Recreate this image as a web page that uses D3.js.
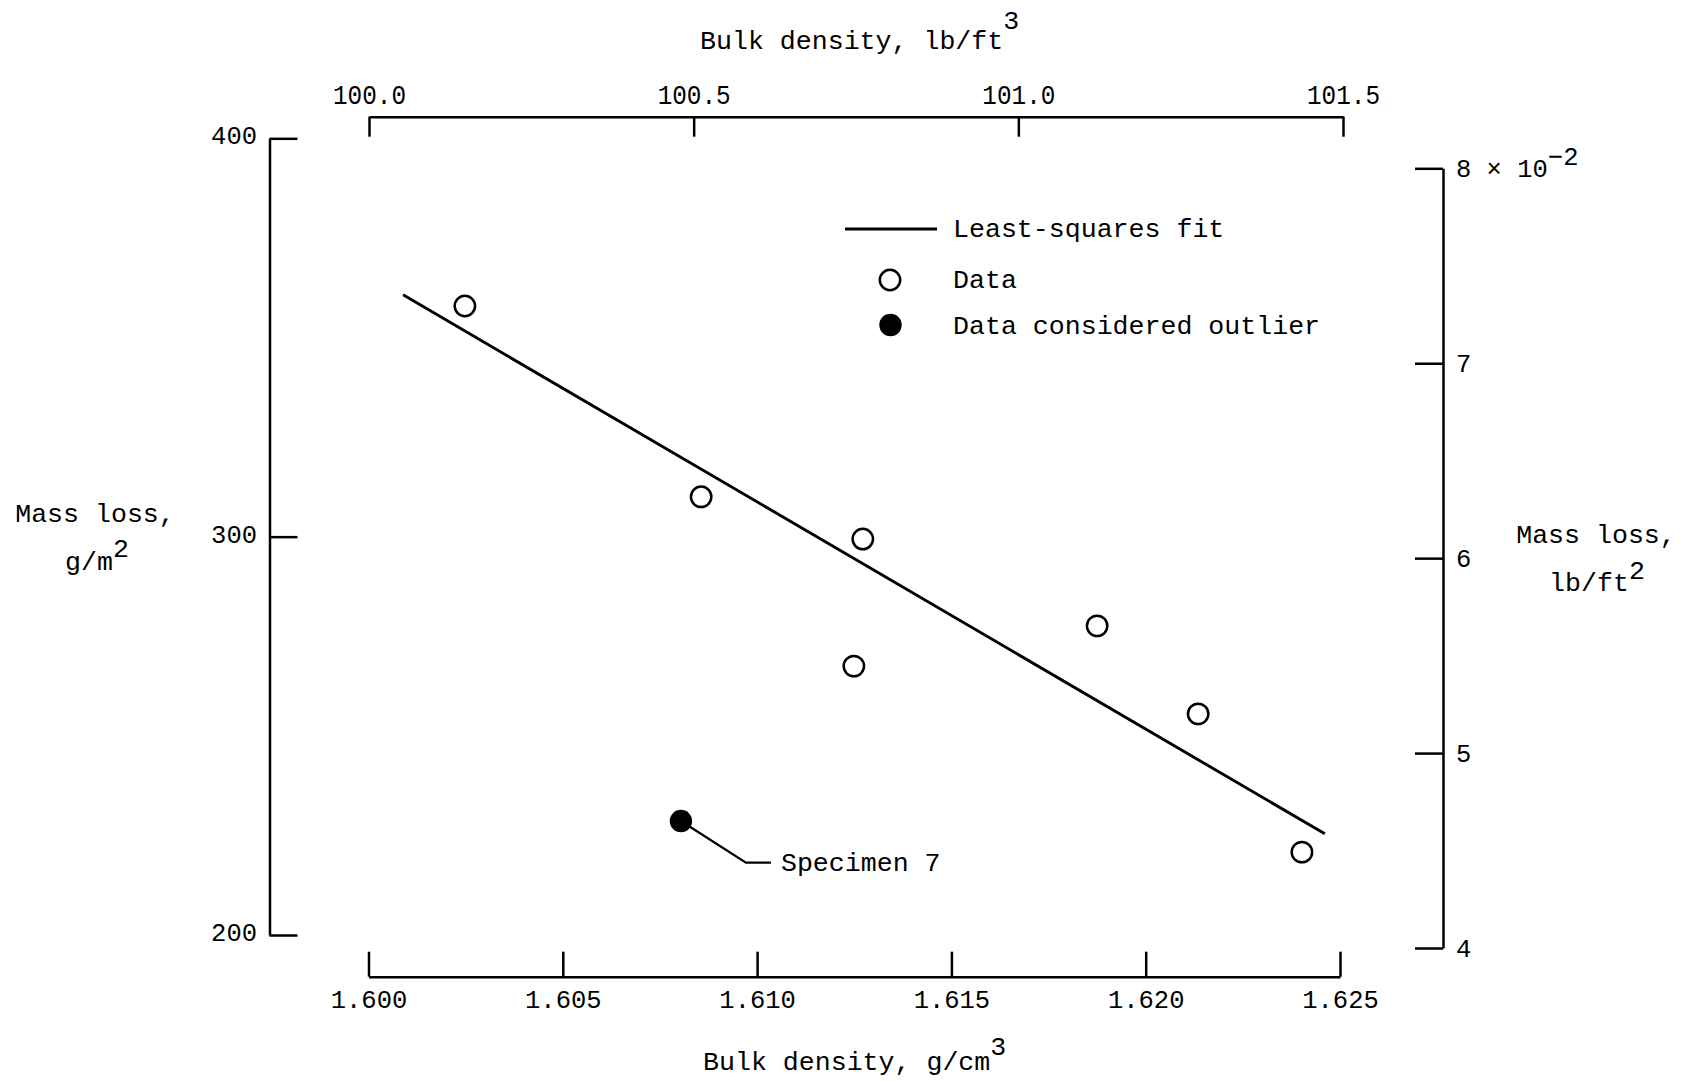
<!DOCTYPE html>
<html>
<head>
<meta charset="utf-8">
<script src="https://cdn.jsdelivr.net/npm/d3@7/dist/d3.min.js"></script>
<style>
  html, body { margin: 0; padding: 0; background: #fff; }
  svg { display: block; }
  text { font-family: "Liberation Mono", "DejaVu Sans Mono", monospace; fill: #000; }
</style>
</head>
<body>
<svg id="chart" width="1697" height="1083"></svg>
<script>
// Bulk density (g/cm^3) and mass loss (g/m^2) for each specimen
const bulkDensityGcm = [1.60248, 1.60856, 1.61272, 1.61249, 1.61875, 1.62135, 1.62402];
const massLossGm2    = [357.9, 310.0, 299.4, 267.5, 277.6, 255.5, 220.8];

// Specimen 7, excluded from the fit
const outlierDensity  = [1.60804];
const outlierMassLoss = [228.6];

// Least-squares line end points
const fitDensity  = [1.60089, 1.62461];
const fitMassLoss = [360.7, 225.4];

// Axis ticks
const densityTicksGcm  = [1.600, 1.605, 1.610, 1.615, 1.620, 1.625];
const densityTicksLbft = [100.0, 100.5, 101.0, 101.5];
const massTicksGm2     = [200, 300, 400];
const massTicksLbft2   = [4, 5, 6, 7, 8];

const svg = d3.select("#chart");
const AXIS_W = 2.5;

const x      = d3.scaleLinear().domain([1.600, 1.625]).range([368.5, 1340]);
const xTop   = d3.scaleLinear().domain([100.0, 101.5]).range([369, 1343]);
const y      = d3.scaleLinear().domain([200, 400]).range([935, 138.3]);
const yRight = d3.scaleLinear().domain([4, 8]).range([948, 168.3]);

function styleAxis(g, fontSize) {
  g.attr("font-family", null).attr("font-size", null);
  g.select(".domain").attr("stroke", "#000").attr("stroke-width", AXIS_W).attr("fill", "none");
  g.selectAll(".tick line").attr("stroke", "#000").attr("stroke-width", AXIS_W);
  g.selectAll(".tick text").style("font-size", fontSize + "px").attr("fill", "#000");
}

// Bottom axis: g/cm^3
const gBottom = svg.append("g").attr("transform", "translate(0,976.7)")
  .call(d3.axisBottom(x).tickValues(densityTicksGcm).tickFormat(d3.format(".3f"))
    .tickSizeInner(-25).tickSizeOuter(0).tickPadding(13));
styleAxis(gBottom, 25.5);

// Top axis: lb/ft^3 (narrow lettering)
const gTop = svg.append("g").attr("transform", "translate(0,116.7)")
  .call(d3.axisTop(xTop).tickValues(densityTicksLbft).tickFormat(d3.format(".1f"))
    .tickSizeInner(-20).tickSizeOuter(0).tickPadding(13));
styleAxis(gTop, 27);
gTop.selectAll(".tick text").attr("textLength", 73).attr("lengthAdjust", "spacingAndGlyphs");

// Left axis: g/m^2
const gLeft = svg.append("g").attr("transform", "translate(269.5,0)")
  .call(d3.axisLeft(y).tickValues(massTicksGm2).tickFormat(d3.format("d"))
    .tickSizeInner(-28).tickSizeOuter(0).tickPadding(12.5));
styleAxis(gLeft, 25.5);
gLeft.selectAll(".tick text").attr("dy", "0.22em");

// Right axis: lb/ft^2 (x 10^-2)
const gRight = svg.append("g").attr("transform", "translate(1443,0)")
  .call(d3.axisRight(yRight).tickValues(massTicksLbft2).tickFormat(d3.format("d"))
    .tickSizeInner(-28).tickSizeOuter(0).tickPadding(13));
styleAxis(gRight, 25.5);
gRight.selectAll(".tick text").attr("dy", "0.32em");
gRight.selectAll(".tick").filter(d => d === 8).select("text")
  .each(function () {
    const t = d3.select(this);
    t.append("tspan").text(" \u00d7 10");
    t.append("tspan").attr("dy", "-0.45em").text("\u22122");
  });

// Axis titles
const titleSize = 26.6;
function superTitle(xPos, yPos, main, sup, supShift, anchor) {
  const t = svg.append("text").attr("x", xPos).attr("y", yPos)
    .attr("text-anchor", anchor).style("font-size", titleSize + "px");
  t.append("tspan").text(main);
  if (sup) t.append("tspan").attr("dy", supShift).text(sup);
  return t;
}
superTitle(700, 48.5, "Bulk density, lb/ft", "3", "-0.72em", "start");
superTitle(703, 1070, "Bulk density, g/cm", "3", "-0.58em", "start");
superTitle(95, 522, "Mass loss,", null, null, "middle");
superTitle(97, 570, "g/m", "2", "-0.5em", "middle");
superTitle(1596, 543, "Mass loss,", null, null, "middle");
superTitle(1597, 591, "lb/ft", "2", "-0.45em", "middle");

// Least-squares fit
const fitPts = fitDensity.map((d, i) => [x(d), y(fitMassLoss[i])]);
svg.append("path").attr("d", d3.line()(fitPts))
  .attr("stroke", "#000").attr("stroke-width", 2.9).attr("fill", "none");

// Data points
svg.append("g").selectAll("circle")
  .data(bulkDensityGcm.map((d, i) => ({ d, m: massLossGm2[i] })))
  .join("circle")
  .attr("cx", p => x(p.d)).attr("cy", p => y(p.m)).attr("r", 10.2)
  .attr("fill", "#fff").attr("stroke", "#000").attr("stroke-width", 2.5);

// Outlier and its callout
const outliers = outlierDensity.map((d, i) => ({ d, m: outlierMassLoss[i] }));
svg.append("g").selectAll("path")
  .data(outliers).join("path")
  .attr("d", p => {
    const cx = x(p.d), cy = y(p.m);
    return d3.line()([[cx, cy], [cx + 65, cy + 41.6], [cx + 90, cy + 41.6]]);
  })
  .attr("stroke", "#000").attr("stroke-width", 2.3).attr("fill", "none");
svg.append("g").selectAll("circle")
  .data(outliers).join("circle")
  .attr("cx", p => x(p.d)).attr("cy", p => y(p.m)).attr("r", 11.2)
  .attr("fill", "#000");
svg.append("g").selectAll("text")
  .data(outliers).join("text")
  .attr("x", p => x(p.d) + 100).attr("y", p => y(p.m) + 50)
  .style("font-size", "26.6px")
  .text("Specimen 7");

// Legend
const legend = svg.append("g");
legend.append("line").attr("x1", 845).attr("x2", 937).attr("y1", 229).attr("y2", 229)
  .attr("stroke", "#000").attr("stroke-width", 2.9);
legend.append("circle").attr("cx", 890).attr("cy", 280).attr("r", 10.2)
  .attr("fill", "#fff").attr("stroke", "#000").attr("stroke-width", 2.5);
legend.append("circle").attr("cx", 890.5).attr("cy", 325).attr("r", 11.2).attr("fill", "#000");
const legendItems = ["Least-squares fit", "Data", "Data considered outlier"];
const legendY = [237, 288, 334];
legend.selectAll("text").data(legendItems).join("text")
  .attr("x", 953).attr("y", (d, i) => legendY[i])
  .style("font-size", "26.6px")
  .text(d => d);
</script>
</body>
</html>
